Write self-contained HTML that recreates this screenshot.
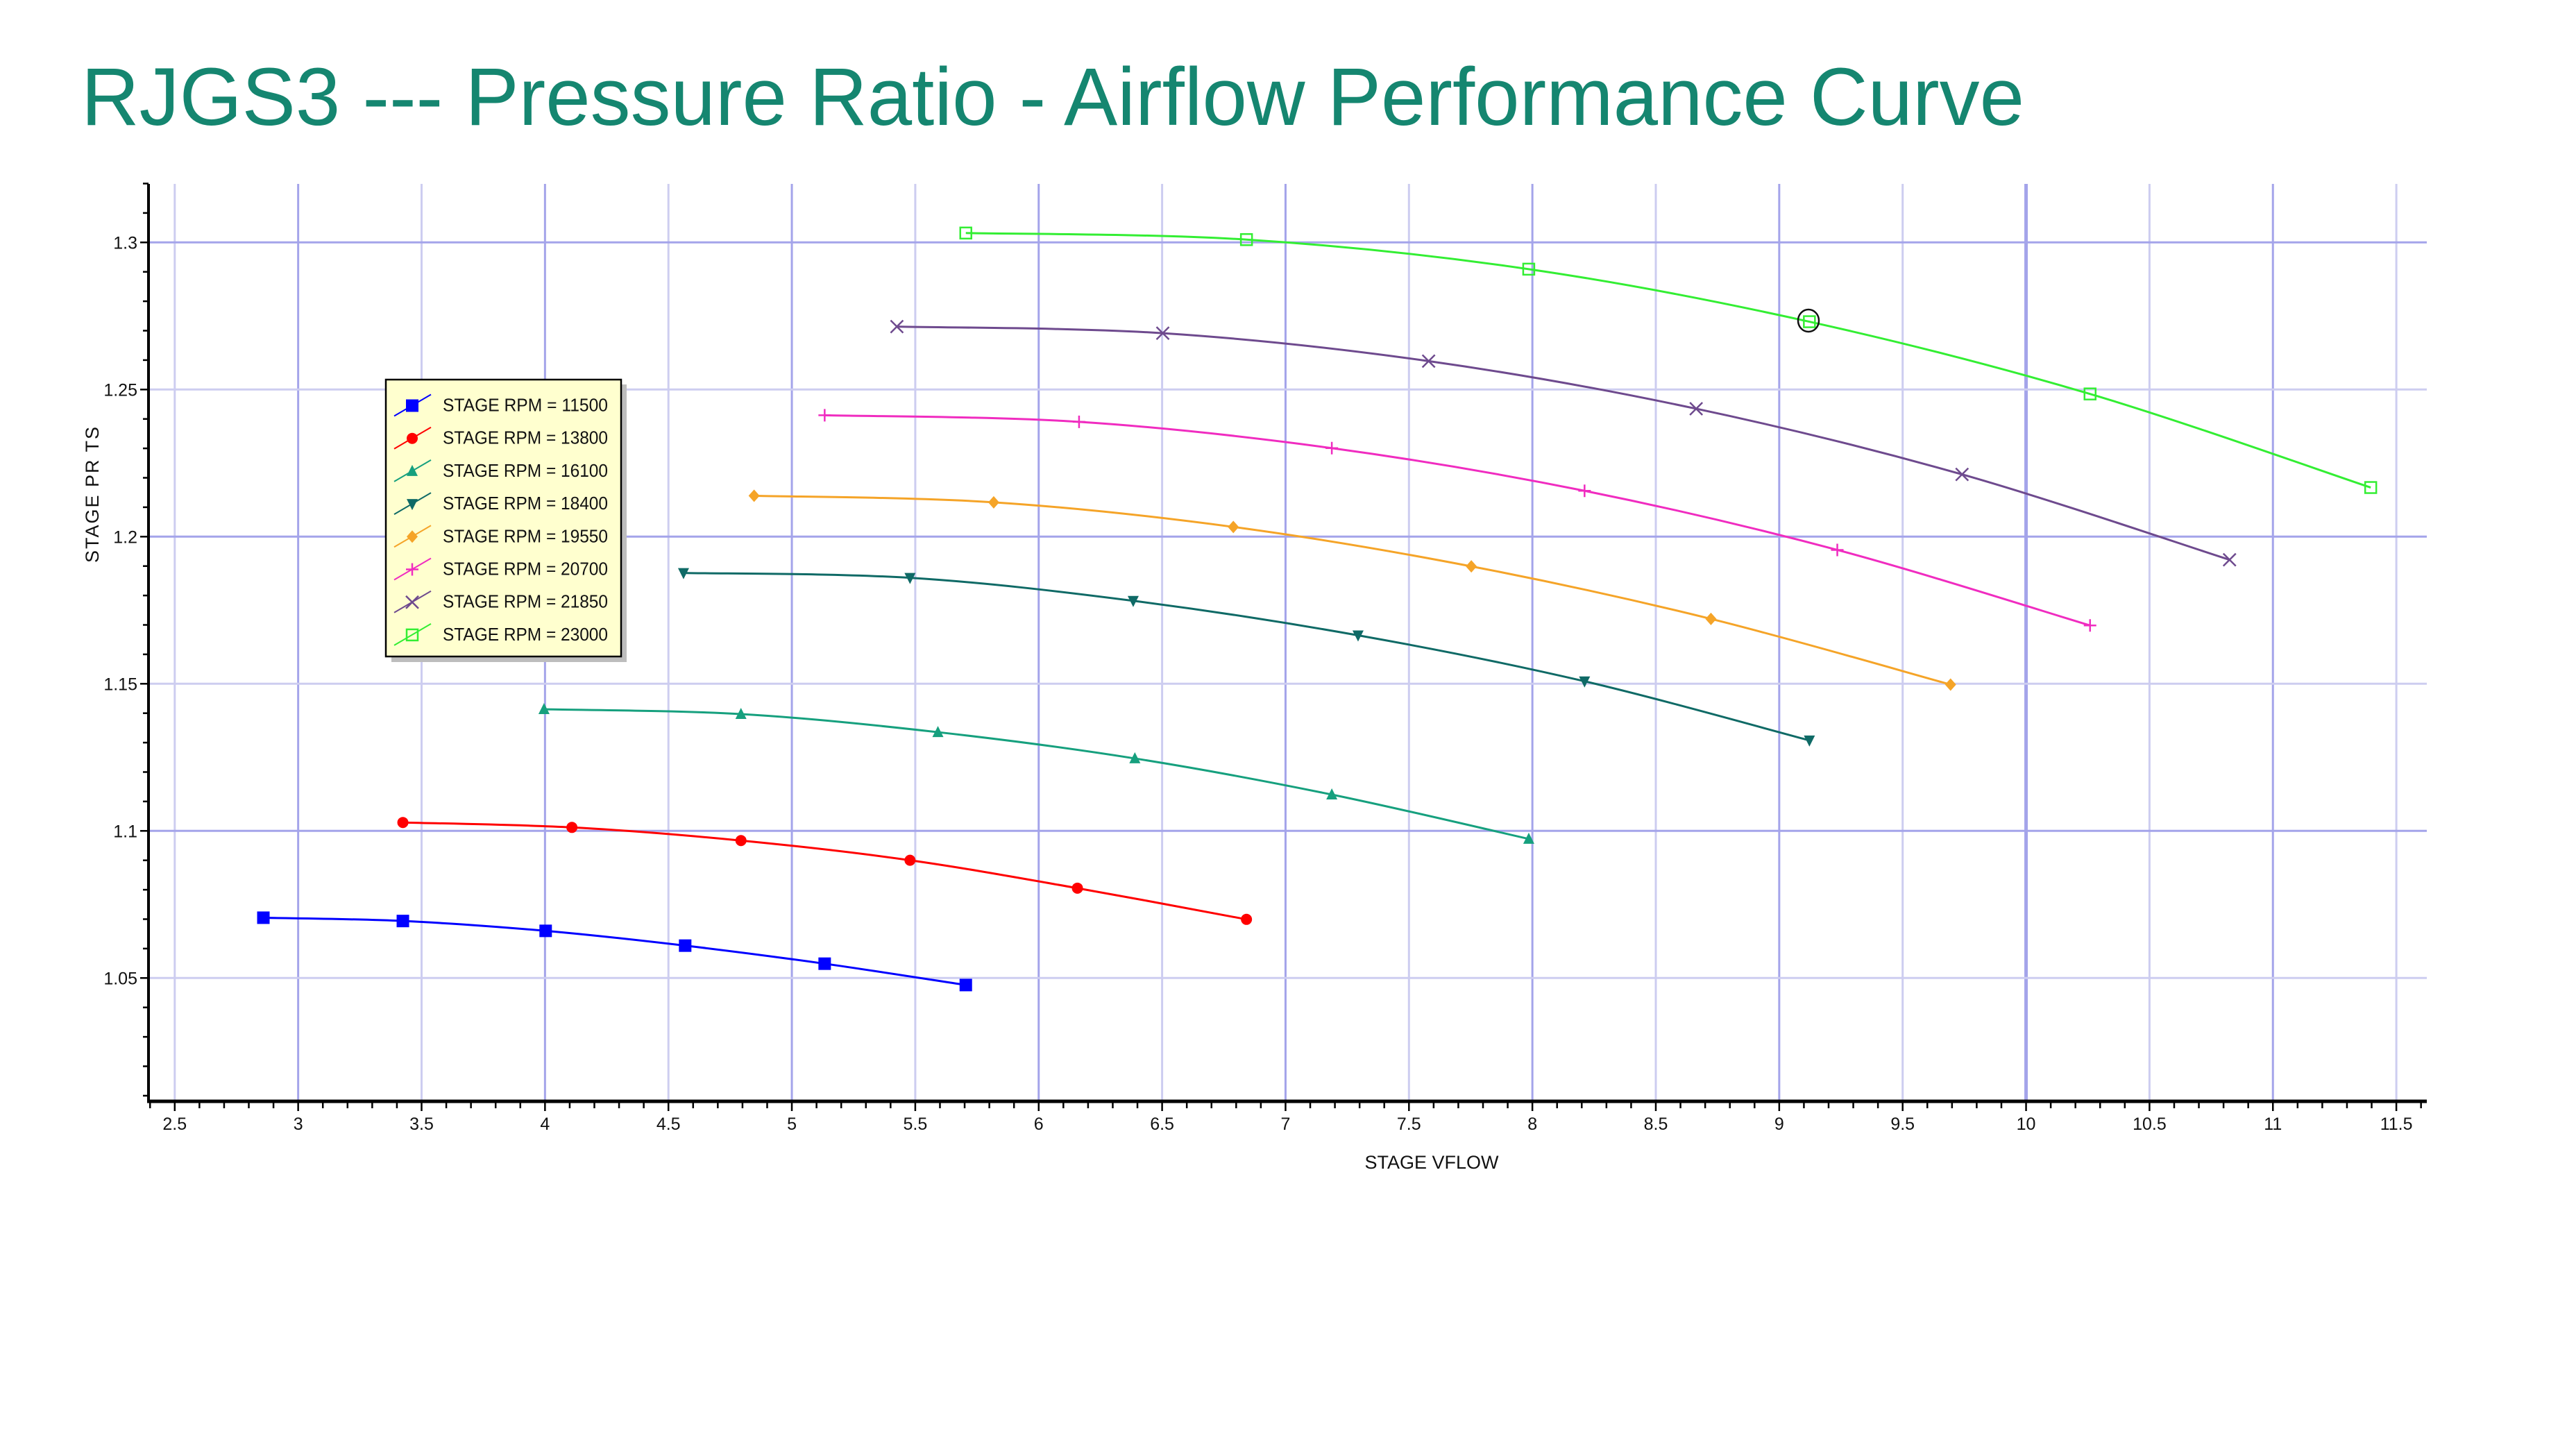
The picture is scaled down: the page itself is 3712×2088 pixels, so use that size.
<!DOCTYPE html>
<html><head><meta charset="utf-8">
<style>
html,body{margin:0;padding:0;background:#fff;}
svg{display:block;}
</style></head>
<body>
<svg id="s" width="3712" height="2088" viewBox="0 0 3712 2088" xmlns="http://www.w3.org/2000/svg" font-family="Liberation Sans, Arial, sans-serif">
<rect width="3712" height="2088" fill="#fff"/>
<text x="117" y="180" font-size="118" fill="#158670" textLength="2800" lengthAdjust="spacingAndGlyphs">RJGS3 --- Pressure Ratio - Airflow Performance Curve</text>
<g id="grid"></g>
<g id="axes"></g>
<g id="series"></g>
<ellipse cx="2606" cy="462" rx="15" ry="16" fill="none" stroke="#111" stroke-width="2.5"/>
<g id="legend"></g>
<text x="2063" y="1684" font-size="27" text-anchor="middle" fill="#111">STAGE VFLOW</text>
<text transform="translate(142,712) rotate(-90)" font-size="27" text-anchor="middle" fill="#111" letter-spacing="2">STAGE PR TS</text>
</svg>
<script>
const NS="http://www.w3.org/2000/svg";
function el(p,t,a,txt){const e=document.createElementNS(NS,t);for(const k in a)e.setAttribute(k,a[k]);if(txt!==undefined)e.textContent=txt;p.appendChild(e);return e;}
const X=v=>251.8+(v-2.5)*355.7, Y=v=>1197.3-(v-1.1)*4240;
const L=214,R=3497,T=265,B=1587;
const g=document.getElementById('grid'),ax=document.getElementById('axes'),sr=document.getElementById('series'),lg=document.getElementById('legend');
for(let i=0;i<=18;i++){const v=2.5+i*0.5,x=X(v);const major=Math.abs(v-Math.round(v))<1e-6;
 el(g,'line',{x1:x,x2:x,y1:T,y2:B,stroke:major?'#a4a4ea':'#cdcdf0','stroke-width':v===10?5:3});}
for(let i=0;i<6;i++){const v=1.05+i*0.05,y=Y(v);const major=(i%2==1);
 el(g,'line',{x1:L,x2:R,y1:y,y2:y,stroke:major?'#a4a4ea':'#cdcdf0','stroke-width':3});}
el(ax,'line',{x1:L,x2:L,y1:T,y2:B+2,stroke:'#000','stroke-width':4});
el(ax,'line',{x1:L-2,x2:R,y1:B,y2:B,stroke:'#000','stroke-width':5});
for(let i=0;i<=92;i++){const v=2.4+i*0.1,x=X(v);if(x<L+2||x>R)continue;const maj=Math.abs(v*2-Math.round(v*2))<1e-6;
 el(ax,'line',{x1:x,x2:x,y1:B,y2:B+(maj?14:10),stroke:'#000','stroke-width':2.5});}
for(let i=0;i<=32;i++){const v=1.01+i*0.01,y=Y(v);if(y<T-1||y>B)continue;const maj=(Math.round(v*100)%5===0);
 el(ax,'line',{x1:L,x2:L-(maj?12:8),y1:y,y2:y,stroke:'#000','stroke-width':2.5});}
['2.5','3','3.5','4','4.5','5','5.5','6','6.5','7','7.5','8','8.5','9','9.5','10','10.5','11','11.5'].forEach(s=>{
 el(ax,'text',{x:X(+s),y:1628,'font-size':25,'text-anchor':'middle',fill:'#111'},s);});
['1.05','1.1','1.15','1.2','1.25','1.3'].forEach(s=>{el(ax,'text',{x:198,y:Y(+s)+9,'font-size':25,'text-anchor':'end',fill:'#111'},s);});
const D=(px,py)=>[251.8+(px-105)*2.365,350+(py-147)*2.366];
const S=[
 ['#0000ff','sq',[[159,558],[244,560],[331,566],[416,575],[501,586],[587,599]],'11500'],
 ['#ff0000','ci',[[244,500],[347,503],[450,511],[553,523],[655,540],[758,559]],'13800'],
 ['#16a07e','tu',[[330,431],[450,434],[570,445],[690,461],[810,483],[930,510]],'16100'],
 ['#0f6a66','td',[[415,348],[553,351],[689,365],[826,386],[964,414],[1101,450]],'18400'],
 ['#f5a428','di',[[458,301],[604,305],[750,320],[895,344],[1041,376],[1187,416]],'19550'],
 ['#f02cc0','pl',[[501,252],[656,256],[810,272],[964,298],[1118,334],[1272,380]],'20700'],
 ['#6e4a8e','x',[[545,198],[707,202],[869,219],[1032,248],[1194,288],[1357,340]],'21850'],
 ['#33ee33','os',[[587,141],[758,145],[930,163],[1101,195],[1272,239],[1443,296]],'23000']];
function marker(p,t,c,x,y,k){k=k||1;
 if(t==='sq')el(p,'rect',{x:x-9*k,y:y-9*k,width:18*k,height:18*k,fill:c});
 else if(t==='ci')el(p,'circle',{cx:x,cy:y,r:8*k,fill:c});
 else if(t==='tu')el(p,'polygon',{points:`${x},${y-9*k} ${x-8*k},${y+7*k} ${x+8*k},${y+7*k}`,fill:c});
 else if(t==='td')el(p,'polygon',{points:`${x},${y+9*k} ${x-8*k},${y-7*k} ${x+8*k},${y-7*k}`,fill:c});
 else if(t==='di')el(p,'polygon',{points:`${x},${y-9*k} ${x+8*k},${y} ${x},${y+9*k} ${x-8*k},${y}`,fill:c});
 else if(t==='pl'){el(p,'path',{d:`M${x-9*k},${y}H${x+9*k}M${x},${y-9*k}V${y+9*k}`,stroke:c,'stroke-width':2.5});}
 else if(t==='x'){el(p,'path',{d:`M${x-9*k},${y-9*k}L${x+9*k},${y+9*k}M${x-9*k},${y+9*k}L${x+9*k},${y-9*k}`,stroke:c,'stroke-width':2.5});}
 else if(t==='os')el(p,'rect',{x:x-8*k,y:y-8*k,width:16*k,height:16*k,fill:'none',stroke:c,'stroke-width':2.5});}
S.forEach(([c,t,pts])=>{const P=pts.map(q=>D(q[0],q[1]));
 let d=`M${P[0][0]},${P[0][1]}`;
 for(let i=0;i<P.length-1;i++){const p0=P[Math.max(0,i-1)],p1=P[i],p2=P[i+1],p3=P[Math.min(P.length-1,i+2)];
  const c1=[p1[0]+(p2[0]-p0[0])/6,p1[1]+(p2[1]-p0[1])/6],c2=[p2[0]-(p3[0]-p1[0])/6,p2[1]-(p3[1]-p1[1])/6];
  d+=`C${c1[0]},${c1[1]} ${c2[0]},${c2[1]} ${p2[0]},${p2[1]}`;}
 el(sr,'path',{d,fill:'none',stroke:c,'stroke-width':3});
 P.forEach(p=>marker(sr,t,c,p[0],p[1]));});
el(lg,'rect',{x:564,y:554,width:339,height:400,fill:'#bdbdbd'});
el(lg,'rect',{x:556,y:547,width:339,height:399,fill:'#ffffcf',stroke:'#000','stroke-width':2.5});
S.forEach(([c,t,pts,n],i)=>{const y=582.5+i*47.2;
 el(lg,'line',{x1:568,y1:y+17,x2:621,y2:y-14,stroke:c,'stroke-width':2});
 marker(lg,t,c,594,y+2,1);
 el(lg,'text',{x:638,y:y+10,'font-size':26,fill:'#111',textLength:238,lengthAdjust:'spacingAndGlyphs'},'STAGE RPM = '+n);});
</script>
</body></html>
